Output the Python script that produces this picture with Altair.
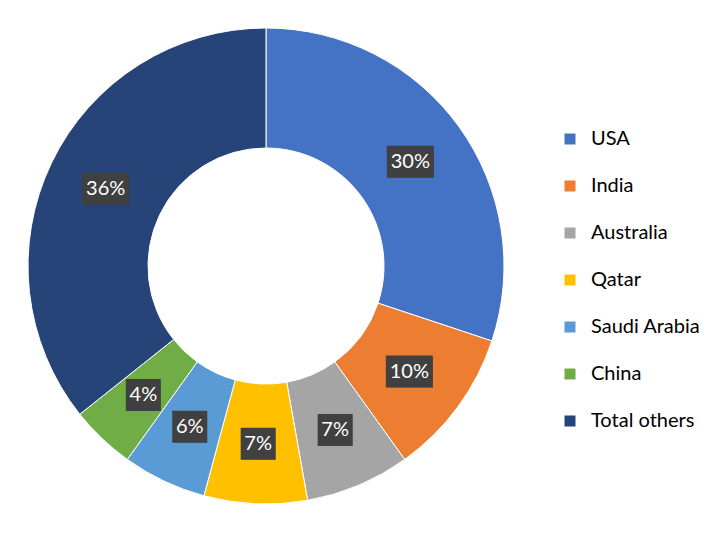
import altair as alt
import pandas as pd

countries = ["USA", "India", "Australia", "Qatar", "Saudi Arabia", "China", "Total others"]
shares = [30.1, 10.0, 7.1, 7.0, 5.7, 4.4, 35.7]
colors = ["#4472C4", "#ED7D31", "#A5A5A5", "#FFC000", "#5B9BD5", "#70AD47", "#264478"]

df = pd.DataFrame({"country": countries, "share": shares, "idx": list(range(len(countries)))})

W, H = 691, 517
CX, CY = 258, 258
R_OUT, R_IN, R_LAB = 238, 118, 178
FONT = "Lato"

base = alt.Chart(df)

color = alt.Color(
    "country:N",
    scale=alt.Scale(domain=countries, range=colors),
    sort=countries,
    legend=alt.Legend(
        title=None, orient="none", legendX=552, legendY=121, padding=0,
        symbolType="square", symbolSize=121, symbolStrokeWidth=0,
        labelFont=FONT, labelFontSize=20, labelColor="#000000",
        labelOffset=11, rowPadding=27,
    ),
)

arcs = base.mark_arc(innerRadius=R_IN, outerRadius=R_OUT, stroke="white", strokeWidth=1).encode(
    theta=alt.Theta("share:Q", stack=True),
    color=color,
    order=alt.Order("idx:Q"),
    x=alt.value(CX),
    y=alt.value(CY),
)

lab = base.transform_joinaggregate(total="sum(share)").transform_window(
    cum="sum(share)", sort=[alt.SortField("idx")], frame=[None, 0]
).transform_calculate(
    mid="(datum.cum - datum.share/2)/datum.total*2*PI",
    px=f"{CX} + {R_LAB}*sin(datum.mid)",
    py=f"{CY} - {R_LAB}*cos(datum.mid)",
    label="format(datum.share/datum.total, '.0%')",
    hw="length(datum.label) > 2 ? 23.5 : 17.5",
    x1="datum.px - datum.hw",
    x2="datum.px + datum.hw",
    y1="datum.py - 16",
    y2="datum.py + 16",
)

xs = alt.Scale(domain=[0, W], range=[0, W])
ys = alt.Scale(domain=[0, H], range=[0, H])

shadow = lab.mark_rect(color="#000000", opacity=0.25, xOffset=2, yOffset=2).encode(
    x=alt.X("x1:Q", scale=xs, axis=None), x2="x2:Q",
    y=alt.Y("y1:Q", scale=ys, axis=None), y2="y2:Q",
)
boxes = lab.mark_rect(color="#404040").encode(
    x=alt.X("x1:Q", scale=xs, axis=None), x2="x2:Q",
    y=alt.Y("y1:Q", scale=ys, axis=None), y2="y2:Q",
)
texts = lab.mark_text(color="white", fontSize=20, font=FONT).encode(
    x=alt.X("px:Q", scale=xs, axis=None),
    y=alt.Y("py:Q", scale=ys, axis=None),
    text="label:N",
)

chart = alt.layer(arcs, shadow, boxes, texts).properties(
    width=W, height=H, padding=0, autosize="none"
).configure_view(stroke=None)

chart.save("out.html", embed_options={"renderer": "svg", "actions": False})
